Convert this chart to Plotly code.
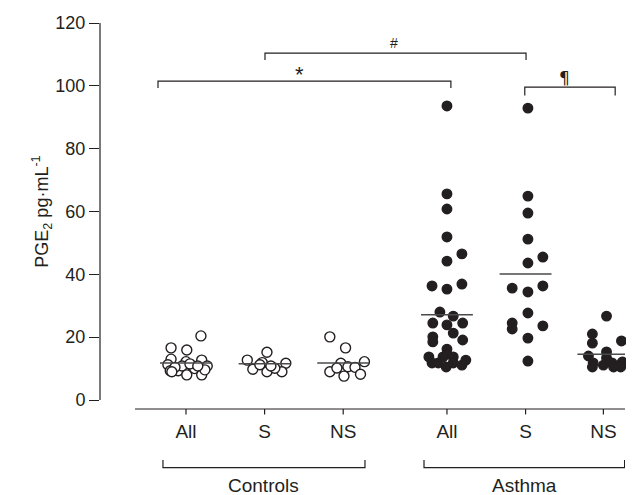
import plotly.graph_objects as go

# ---- data ----
group_names = ["Controls All", "Controls S", "Controls NS", "Asthma All", "Asthma S", "Asthma NS"]
group_pos = [1.0, 2.0, 3.0, 4.32, 5.32, 6.31]
tick_labels = ["All", "S", "NS", "All", "S", "NS"]

ctrl_all = [20.4, 16.6, 15.9, 13.0, 12.7, 12.2, 11.2, 9.3, 9.3, 10.8, 8.0, 10.8, 10.0, 8.0, 10.8, 9.6, 10.4, 11.5, 10.8, 9.0]
ctrl_all_dx = [0.19, -0.19, 0.01, -0.19, 0.2, 0.0, -0.23, -0.2, -0.1, -0.05, 0.01, 0.08, 0.11, 0.2, 0.27, 0.24, -0.14, 0.05, 0.15, -0.18]

ctrl_s = [15.2, 12.7, 11.7, 11.9, 9.8, 9.0, 9.0, 10.1, 10.8, 11.2]
ctrl_s_dx = [0.03, -0.22, 0.27, -0.03, -0.15, 0.03, 0.22, 0.13, 0.08, -0.06]

ctrl_ns = [20.1, 16.6, 12.2, 11.7, 10.6, 10.4, 9.0, 7.6, 8.2, 10.2]
ctrl_ns_dx = [-0.17, 0.03, 0.27, -0.03, 0.06, 0.15, -0.17, 0.01, 0.22, -0.08]

asth_all = [93.6, 65.6, 60.8, 51.9, 46.5, 44.2, 36.3, 35.3, 36.9, 28.0, 24.5, 26.7, 23.9, 24.5, 21.3,
            20.1, 18.5, 19.1, 16.2, 14.6, 13.7, 13.7, 13.7, 12.7, 11.8, 11.8, 10.5, 11.8, 11.1]
asth_all_dx = [0.0, 0.0, 0.0, 0.0, 0.19, 0.0, -0.19, 0.0, 0.19, -0.09, -0.18, 0.08, 0.0, 0.2, 0.08,
               -0.18, -0.18, 0.2, 0.0, 0.0, -0.23, -0.05, 0.08, 0.24, -0.19, -0.11, -0.01, 0.08, 0.19]

asth_s = [92.9, 64.9, 59.5, 51.2, 45.5, 43.6, 35.6, 34.4, 36.3, 27.7, 24.5, 22.6, 23.6, 19.7, 12.4]
asth_s_dx = [0.03, 0.03, 0.03, 0.03, 0.22, 0.03, -0.17, 0.03, 0.22, 0.03, -0.17, -0.17, 0.22, 0.03, 0.03]

asth_ns = [26.7, 21.0, 18.1, 18.8, 15.3, 14.0, 13.4, 11.8, 11.1, 11.8, 12.1, 10.5, 10.5, 10.5]
asth_ns_dx = [0.04, -0.14, -0.14, 0.23, 0.04, -0.19, 0.04, -0.13, 0.0, 0.11, 0.24, 0.22, -0.14, 0.13]

medians = [11.8, 11.5, 11.8, 27.1, 40.1, 14.6]

groups_values = [ctrl_all, ctrl_s, ctrl_ns, asth_all, asth_s, asth_ns]
groups_dx = [ctrl_all_dx, ctrl_s_dx, ctrl_ns_dx, asth_all_dx, asth_s_dx, asth_ns_dx]
filled = [False, False, False, True, True, True]

y_ticks = [0, 20, 40, 60, 80, 100, 120]

# significance brackets: (x0, x1, y_top, y_bottom, label, label_x, label_y)
sig_brackets = [
    (2.005, 5.326, 110.4, 108.2, "#", 3.65, 113.6),
    (0.644, 4.37, 101.5, 99.3, "*", 2.45, 103.6),
    (5.31, 6.46, 99.6, 96.9, "¶", 5.82, 102.6),
]
# group brackets below the axis: (x0, x1, label)
group_brackets = [(0.707, 3.277, "Controls"), (4.028, 6.58, "Asthma")]
x_line_extent = (0.351, 6.585)

INK = "#231f20"
FONT = "Liberation Sans, Arial, Helvetica, sans-serif"
fig = go.Figure()

for name, pos, vals, dxs, fill in zip(group_names, group_pos, groups_values, groups_dx, filled):
    fig.add_trace(go.Scatter(
        x=[pos + d for d in dxs], y=vals, mode="markers", name=name,
        marker=dict(size=10 if not fill else 9.5,
                    color=INK if fill else "white",
                    line=dict(color=INK, width=1.4)),
        showlegend=False, cliponaxis=False,
    ))

for pos, m in zip(group_pos, medians):
    fig.add_trace(go.Scatter(
        x=[pos - 0.33, pos + 0.33], y=[m, m], mode="lines",
        line=dict(color="#4a4a4a", width=1.5), showlegend=False, hoverinfo="skip",
    ))

shapes = []
annotations = []
# y axis line from 0 to 120 only
shapes.append(dict(type="line", xref="paper", yref="y", x0=0, x1=0, y0=y_ticks[0], y1=y_ticks[-1],
                   line=dict(color=INK, width=1.2)))
# detached x axis line
shapes.append(dict(type="line", xref="x", yref="paper", x0=x_line_extent[0], x1=x_line_extent[1],
                   y0=0, y1=0, line=dict(color=INK, width=1.2)))
# x ticks (downward)
for p in group_pos:
    shapes.append(dict(type="line", xref="x", yref="paper", x0=p, x1=p, y0=0, y1=-0.014,
                       line=dict(color=INK, width=1.2)))

label_fonts = {"#": dict(size=14, family=FONT), "*": dict(size=22, family=FONT),
               "¶": dict(size=17, family="DejaVu Sans, sans-serif")}
for x0, x1, yt, yb, lab, lx, ly in sig_brackets:
    shapes.append(dict(type="path", xref="x", yref="y",
                       path=f"M {x0} {yb} L {x0} {yt} L {x1} {yt} L {x1} {yb}",
                       line=dict(color=INK, width=1.2)))
    f = dict(label_fonts[lab]); f["color"] = INK
    annotations.append(dict(x=lx, y=ly, xref="x", yref="y", text=lab, showarrow=False, font=f))

for x0, x1, lab in group_brackets:
    shapes.append(dict(type="path", xref="x", yref="paper",
                       path=f"M {x0} -0.132 L {x0} -0.152 L {x1} -0.152 L {x1} -0.132",
                       line=dict(color=INK, width=1.2)))
    annotations.append(dict(x=(x0 + x1) / 2, y=-0.165, xref="x", yref="paper", text=lab,
                            yanchor="top", showarrow=False,
                            font=dict(size=19, color=INK, family=FONT)))

annotations.append(dict(x=-0.139, y=0.51, xref="paper", yref="paper",
                        text="PGE<sub>2</sub> pg·mL<sup>-1</sup>", textangle=-90,
                        showarrow=False, font=dict(size=18, color=INK, family=FONT)))

fig.update_layout(
    width=634, height=495,
    margin=dict(l=92, r=17, t=15, b=94, autoexpand=False),
    paper_bgcolor="white", plot_bgcolor="white",
    font=dict(family=FONT, color=INK),
    shapes=shapes, annotations=annotations,
    xaxis=dict(domain=[0, 1], anchor="y",
               range=[-0.094, 6.585], tickmode="array", tickvals=group_pos, ticktext=tick_labels,
               showline=False, ticks="", showgrid=False, zeroline=False, automargin=False,
               tickfont=dict(size=19), ticklabelstandoff=9),
    yaxis=dict(domain=[0, 1], anchor="x", automargin=False,
               range=[-2.865, 120], tickmode="array", tickvals=y_ticks,
               showline=False, ticks="outside", ticklen=10,
               tickcolor=INK, tickwidth=1.2, showgrid=False, zeroline=False,
               tickfont=dict(size=18)),
)

fig.write_html("out.html")
